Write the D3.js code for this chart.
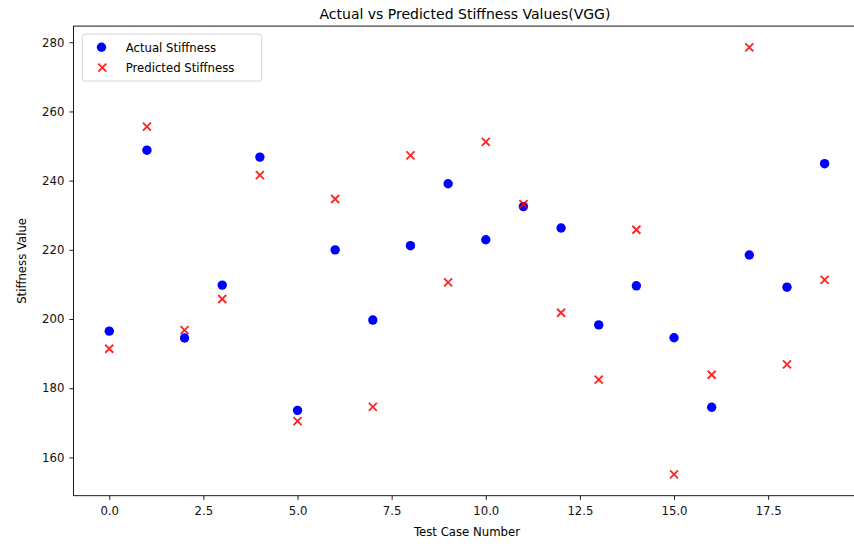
<!DOCTYPE html>
<html>
<head>
<meta charset="utf-8">
<script src="https://cdn.jsdelivr.net/npm/d3@7"></script>
<style>
  html, body { margin: 0; padding: 0; background: #fff; }
  svg { display: block; font-family: "DejaVu Sans", sans-serif; }
</style>
</head>
<body>
<svg id="chart" width="854" height="546"></svg>
<script>
// ---- data ----
const testCases = [0,1,2,3,4,5,6,7,8,9,10,11,12,13,14,15,16,17,18,19];
const actualStiffness = [196.5,248.8,194.5,209.8,246.8,173.6,220.0,199.7,221.2,239.1,222.9,232.5,226.3,198.3,209.6,194.6,174.5,218.5,209.2,244.9];
const predictedStiffness = [191.4,255.6,196.8,205.8,241.6,170.5,234.7,174.6,247.3,210.6,251.2,233.2,201.8,182.5,225.8,155.1,183.9,278.5,186.9,211.3];
const xTicks = [0,2.5,5,7.5,10,12.5,15,17.5];
const yTicks = [160,180,200,220,240,260,280];
const titleText = "Actual vs Predicted Stiffness Values(VGG)";
const xLabel = "Test Case Number";
const yLabel = "Stiffness Value";
const legendLabels = ["Actual Stiffness", "Predicted Stiffness"];

// ---- layout ----
const svg = d3.select("#chart");
const L = 73.5, R = 860.4, T = 26.1, B = 495.7;
const fs = 11.7;

function padDomain(lo, hi) { const m = (hi - lo) * 0.05; return [lo - m, hi + m]; }
const xDom = padDomain(d3.min(testCases), d3.max(testCases));
const allY = actualStiffness.concat(predictedStiffness);
const yDom = padDomain(d3.min(allY), d3.max(allY));

const x = d3.scaleLinear().domain(xDom).range([L, R]);
const y = d3.scaleLinear().domain(yDom).range([B, T]);

// axes
const xAxis = d3.axisBottom(x).tickValues(xTicks).tickFormat(d3.format(".1f")).tickSize(4.1).tickPadding(6.5);
const yAxis = d3.axisLeft(y).tickValues(yTicks).tickFormat(d3.format("d")).tickSize(4.1).tickPadding(5);

const gx = svg.append("g").attr("transform", `translate(0,${B})`).call(xAxis);
const gy = svg.append("g").attr("transform", `translate(${L},0)`).call(yAxis);
[gx, gy].forEach(g => {
  g.select(".domain").remove();
  g.selectAll(".tick line").attr("stroke", "#000").attr("stroke-width", 0.9);
  g.selectAll(".tick text").attr("fill", "#111").style("font-size", fs + "px").style("font-family", "DejaVu Sans");
});

// spines
svg.append("rect").attr("x", L).attr("y", T).attr("width", R - L).attr("height", B - T)
  .attr("fill", "none").attr("stroke", "#000").attr("stroke-width", 0.9);

// points
const plot = svg.append("g");
plot.selectAll("circle.actual").data(testCases).join("circle")
  .attr("class", "actual")
  .attr("cx", (d) => x(d)).attr("cy", (d, i) => y(actualStiffness[i]))
  .attr("r", 4.7).attr("fill", "#0000ff");

const xs = 4.0;
plot.selectAll("path.pred").data(testCases).join("path")
  .attr("class", "pred")
  .attr("d", (d, i) => {
    const cx = x(d), cy = y(predictedStiffness[i]);
    return `M${cx - xs},${cy - xs}L${cx + xs},${cy + xs}M${cx - xs},${cy + xs}L${cx + xs},${cy - xs}`;
  })
  .attr("stroke", "#ff0000").attr("stroke-opacity", 0.85).attr("stroke-width", 1.9).attr("fill", "none");

// title & labels
svg.append("text").attr("x", (L + R) / 2 - 2).attr("y", 19).attr("text-anchor", "middle")
  .style("font-size", "14px").attr("fill", "#000").text(titleText);
svg.append("text").attr("x", (L + R) / 2).attr("y", 536).attr("text-anchor", "middle")
  .style("font-size", fs + "px").attr("fill", "#000").text(xLabel);
svg.append("text").attr("transform", `translate(26,${(T + B) / 2}) rotate(-90)`).attr("text-anchor", "middle")
  .style("font-size", fs + "px").attr("fill", "#000").text(yLabel);

// legend
const lg = svg.append("g");
lg.append("rect").attr("x", 82.3).attr("y", 34).attr("width", 179.4).attr("height", 47).attr("rx", 3)
  .attr("fill", "#fff").attr("fill-opacity", 0.8).attr("stroke", "#d0d0d0").attr("stroke-width", 0.9);
lg.append("circle").attr("cx", 101.5).attr("cy", 47.3).attr("r", 4.7).attr("fill", "#0000ff");
const lx = 102.3, ly = 67.7;
lg.append("path").attr("d", `M${lx - xs},${ly - xs}L${lx + xs},${ly + xs}M${lx - xs},${ly + xs}L${lx + xs},${ly - xs}`)
  .attr("stroke", "#ff0000").attr("stroke-opacity", 0.85).attr("stroke-width", 1.9);
lg.append("text").attr("x", 125.7).attr("y", 51.5).style("font-size", fs + "px").attr("fill", "#000").text(legendLabels[0]);
lg.append("text").attr("x", 125.7).attr("y", 72).style("font-size", fs + "px").attr("fill", "#000").text(legendLabels[1]);
</script>
</body>
</html>
